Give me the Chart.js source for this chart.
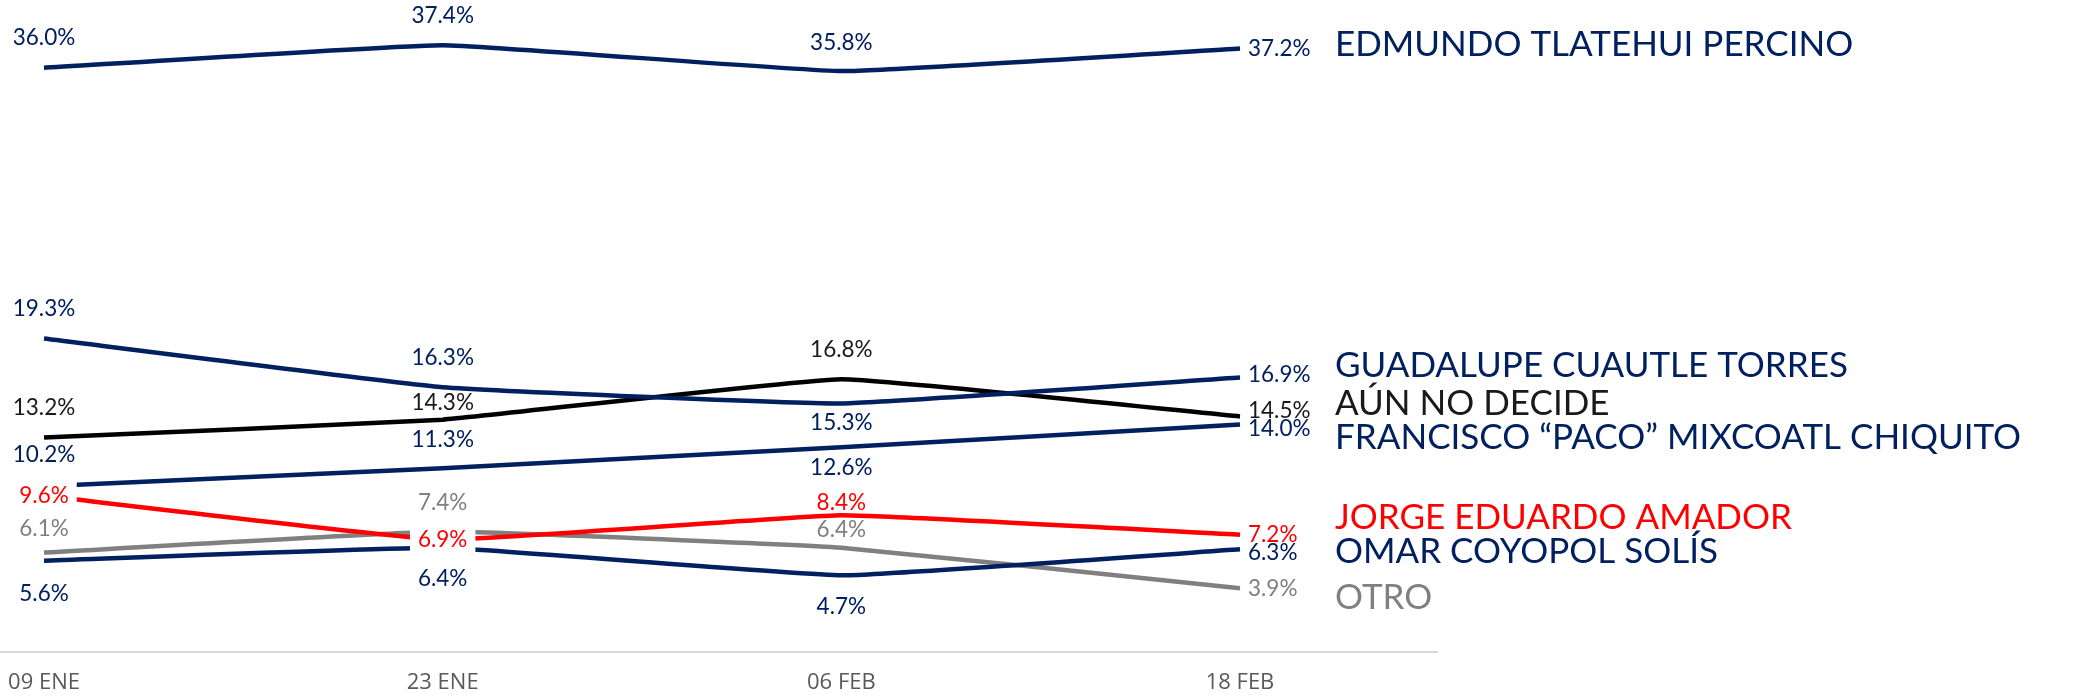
<!DOCTYPE html>
<html>
<head>
<meta charset="utf-8">
<script src="https://cdn.jsdelivr.net/npm/chart.js@4.4.0/dist/chart.umd.min.js"></script>
<style>
  html, body { margin: 0; padding: 0; background: #fff; }
</style>
</head>
<body>
<canvas id="chartLines" width="2087" height="699"></canvas>
<script>
  const fechas = ['09 ENE', '23 ENE', '06 FEB', '18 FEB'];

  const edmundo = [36.0, 37.4, 35.8, 37.2];
  const guadalupe = [19.3, 16.3, 15.3, 16.9];
  const aunNoDecide = [13.2, 14.3, 16.8, 14.5];
  const francisco = [10.2, 11.3, 12.6, 14.0];
  const jorge = [9.6, 6.9, 8.4, 7.2];
  const omar = [5.6, 6.4, 4.7, 6.3];
  const otro = [6.1, 7.4, 6.4, 3.9];

  const nombres = [
    'EDMUNDO TLATEHUI PERCINO',
    'GUADALUPE CUAUTLE TORRES',
    'AÚN NO DECIDE',
    'FRANCISCO “PACO” MIXCOATL CHIQUITO',
    'JORGE EDUARDO AMADOR',
    'OMAR COYOPOL SOLÍS',
    'OTRO'
  ];

  const azul = '#002060';
  const rojo = '#ff0000';
  const gris = '#808080';
  const negro = '#000000';

  // estilo de cada serie: color, desplazamiento vertical de etiquetas (px) y del nombre
  const series = [
    { data: edmundo, color: azul, text: azul, dy: [-30, -29, -28, 0], nameDy: -4 },
    { data: guadalupe, color: azul, text: azul, dy: [-30, -29, 19, -3], nameDy: -12 },
    { data: aunNoDecide, color: negro, text: '#1a1a1a', dy: [-30, -17, -29, -6], nameDy: -13 },
    { data: francisco, color: azul, text: azul, dy: [-31, -29, 21, 4], nameDy: 13 },
    { data: jorge, color: rojo, text: rojo, dy: [0, 0, -13, 0], nameDy: -17, box: [true, true, false, false] },
    { data: omar, color: azul, text: azul, dy: [33, 31, 31, 3], nameDy: 2 },
    { data: otro, color: gris, text: gris, dy: [-24, -29, -18, 0], nameDy: 9 }
  ];

  const etiquetas = {
    id: 'etiquetas',
    afterDatasetsDraw(chart) {
      const ctx = chart.ctx;
      ctx.save();
      ctx.textBaseline = 'middle';
      series.forEach((s, d) => {
        const pts = chart.getDatasetMeta(d).data;
        ctx.font = '22.5px Lato';
        pts.forEach((p, i) => {
          const txt = s.data[i].toFixed(1) + '%';
          const last = i === pts.length - 1;
          const w = ctx.measureText(txt).width;
          const x = last ? p.x + 8 : p.x;
          const y = p.y + s.dy[i];
          ctx.textAlign = last ? 'left' : 'center';
          if (s.box && s.box[i]) {
            ctx.fillStyle = '#ffffff';
            ctx.fillRect(x - w / 2 - 8, y - 17, w + 16, 34);
          }
          ctx.fillStyle = s.text;
          ctx.fillText(txt, x, y);
        });
        // nombre a la derecha
        const fin = pts[pts.length - 1];
        ctx.font = '35px Lato';
        ctx.textAlign = 'left';
        ctx.fillStyle = s.text;
        ctx.fillText(nombres[d], 1335, fin.y + s.nameDy);
      });
      ctx.restore();
    }
  };

  new Chart(document.getElementById('chartLines'), {
    type: 'line',
    data: {
      datasets: series.map((s, d) => ({
        label: nombres[d],
        data: s.data.map((v, i) => ({ x: i, y: v })),
        borderColor: s.color,
        backgroundColor: s.color,
        borderWidth: 4.5,
        pointRadius: 0,
        tension: 0.1,
        fill: false
      }))
    },
    options: {
      responsive: false,
      animation: false,
      layout: { padding: { top: 3, right: 649.5, left: 0, bottom: 0 } },
      plugins: { legend: { display: false }, tooltip: { enabled: false } },
      scales: {
        x: {
          type: 'linear',
          min: -0.1104,
          max: 3.4954,
          afterBuildTicks: (scale) => { scale.ticks = fechas.map((_, i) => ({ value: i })); },
          afterFit: (scale) => {
            scale.height = 47.5;
            scale.paddingLeft = 0;
            scale.paddingRight = 0;
          },
          ticks: {
            callback: (v) => fechas[v],
            color: '#595959',
            font: { family: 'Open Sans', size: 22 },
            padding: 18,
            autoSkip: false,
            maxRotation: 0
          },
          grid: { display: false, drawTicks: false },
          border: { display: true, color: '#d9d9d9', width: 2 }
        },
        y: { min: 0, max: 40, display: false }
      }
    },
    plugins: [etiquetas]
  });
</script>
</body>
</html>
